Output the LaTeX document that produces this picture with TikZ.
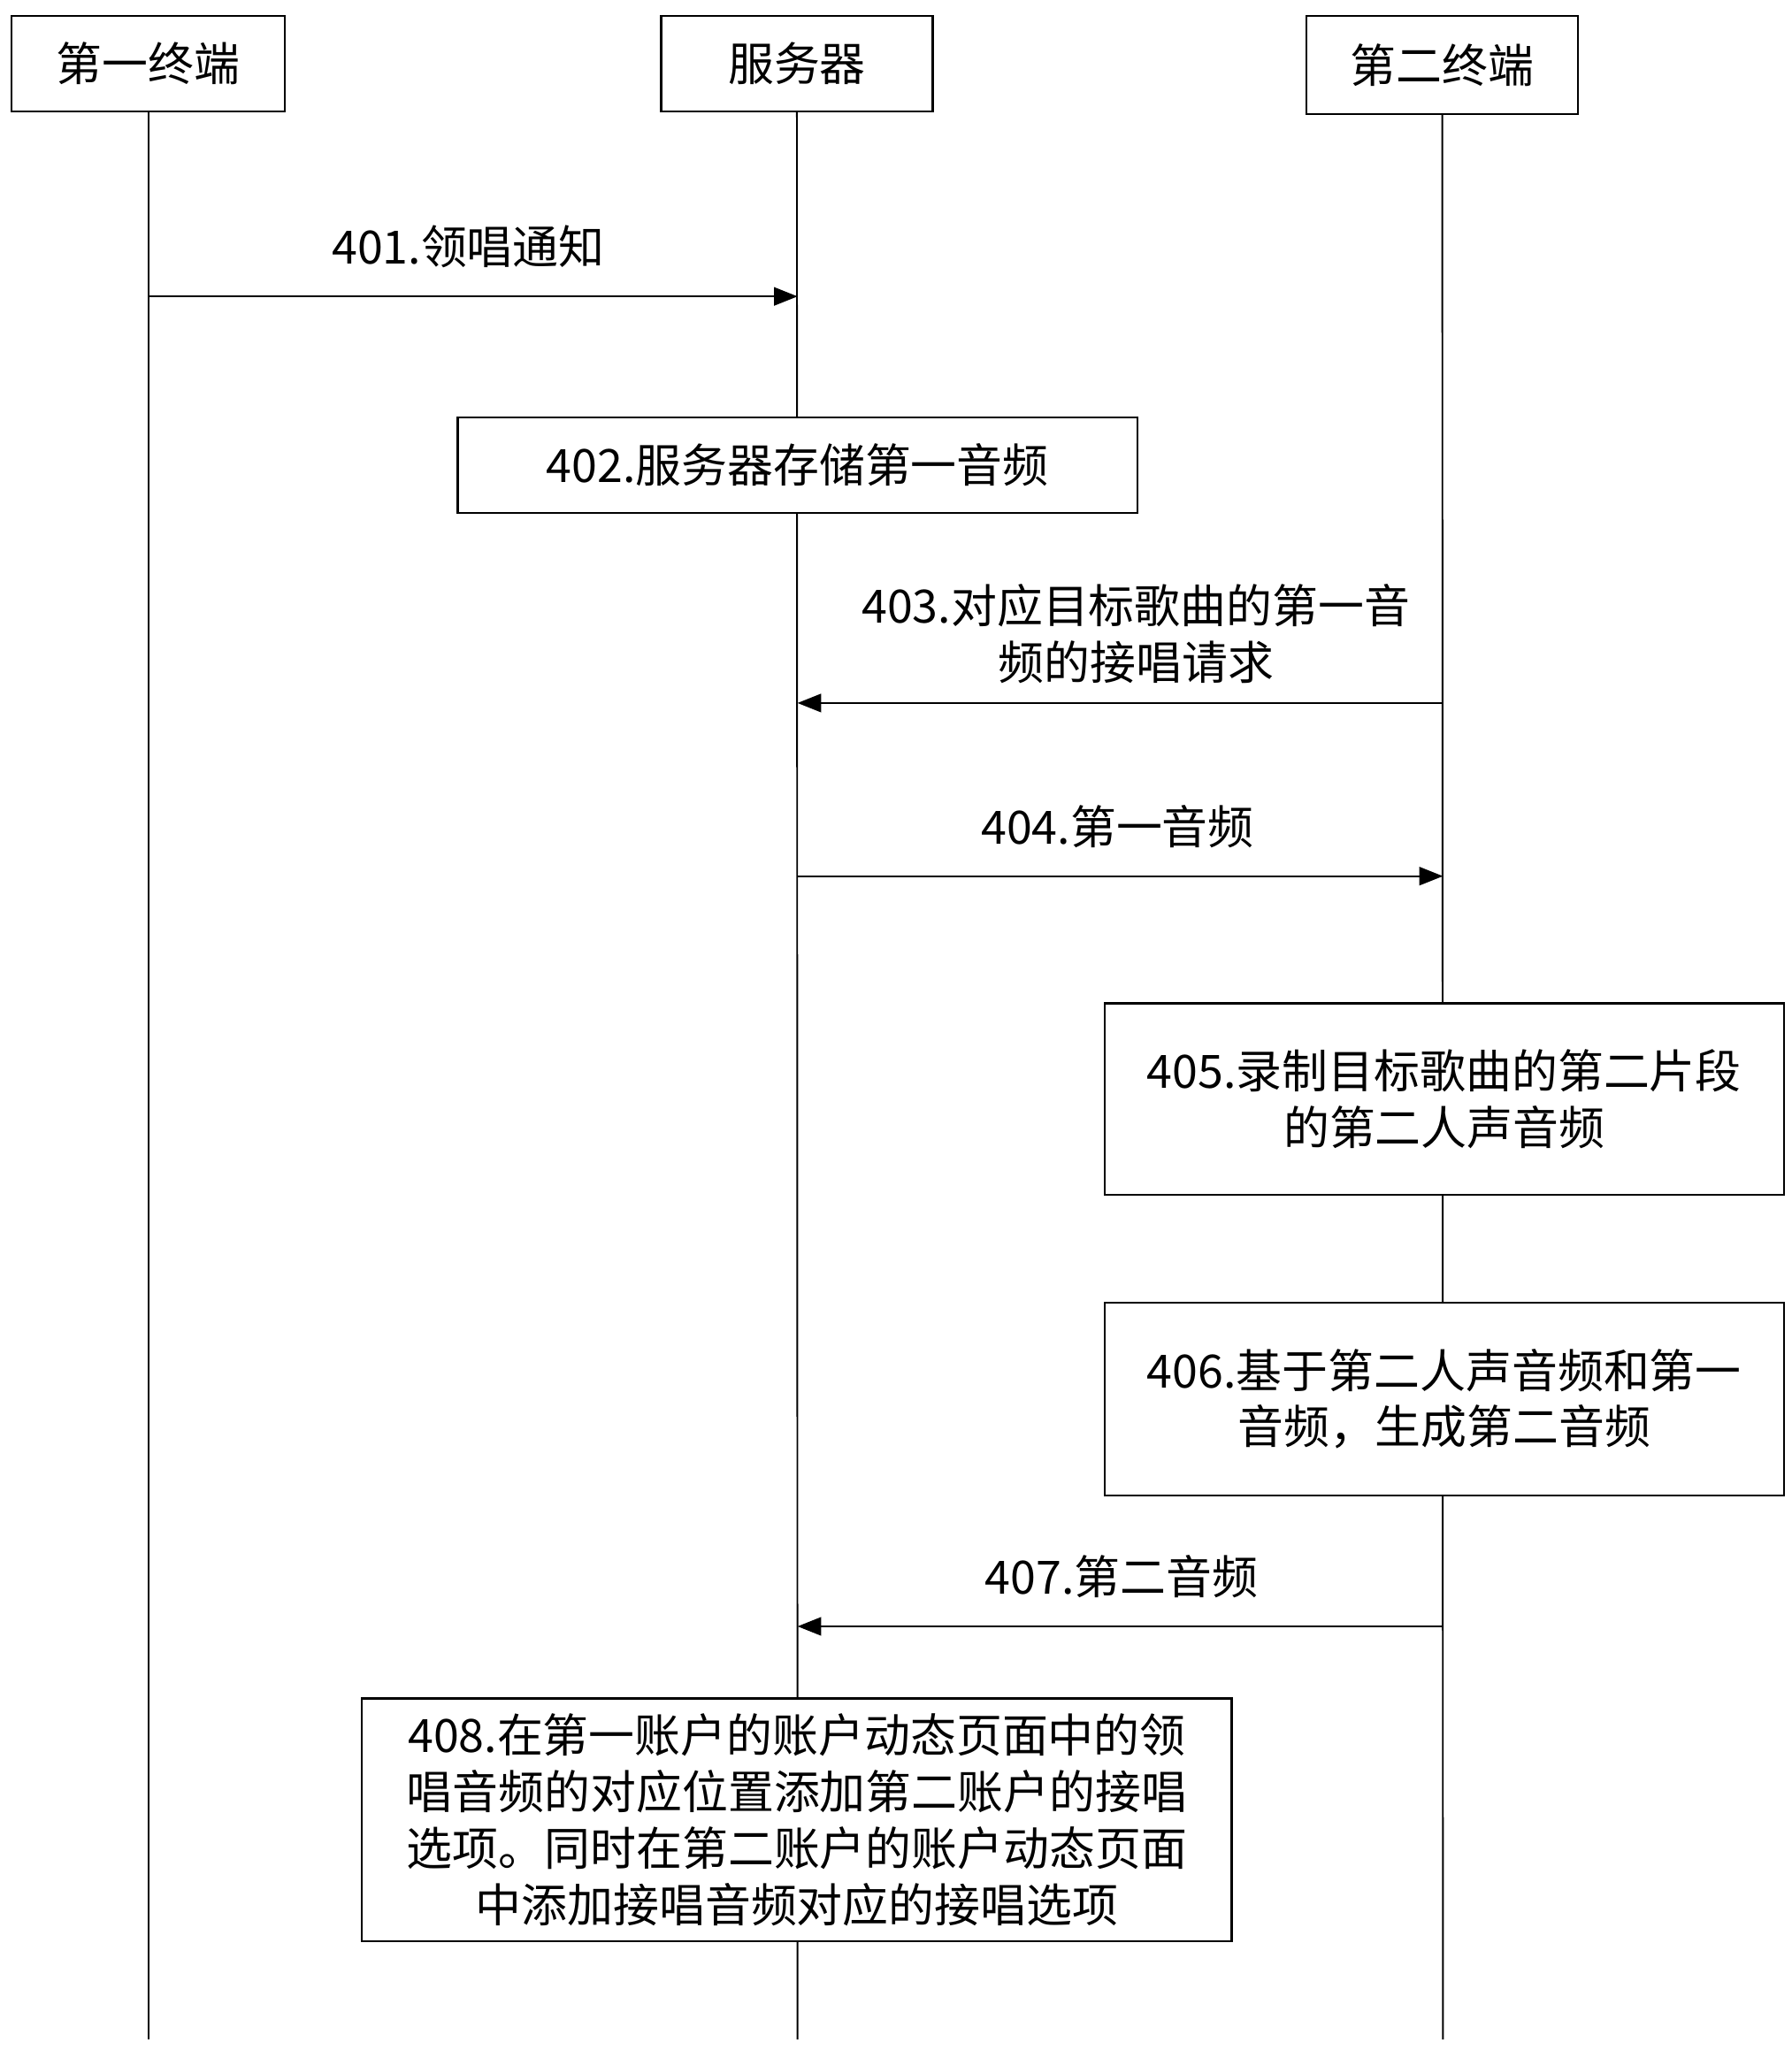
\documentclass[tikz,border=0pt]{standalone}
\usepackage{fontspec}
\setmainfont{Noto Sans CJK SC}
\usetikzlibrary{arrows.meta}
\begin{document}
\begin{tikzpicture}[x=1pt,y=-1pt,
 box/.style={draw,line width=1.5pt,inner sep=0pt,align=center,font=\fontsize{35}{43}\selectfont},
 lbl/.style={align=center,font=\fontsize{35}{43}\selectfont},
 life/.style={line width=1.3pt},
 msg/.style={line width=1.3pt,-{Triangle[length=18pt,width=14pt]}}]
\useasboundingbox (0,0) rectangle (1366,1563);
\node[box,minimum width=208pt,minimum height=73pt] (t1) at (113,48.5) {第一终端};
\node[box,minimum width=207pt,minimum height=73pt] (sv) at (607.5,48.5) {服务器};
\node[box,minimum width=207pt,minimum height=75pt] (t2) at (1099.5,49.5) {第二终端};
\coordinate (e1) at (113,1555);
\coordinate (e2) at (608,1555);
\coordinate (e3) at (1100,1555);
\draw[life] (t1.south) -- (e1);
\draw[life] (sv.south) -- (e2);
\draw[life] (t2.south) -- (e3);
\node[box,fill=white,minimum width=518pt,minimum height=73pt] (b402) at (608,354.5) {402.服务器存储第一音频};
\node[box,fill=white,minimum width=518pt,minimum height=146pt] (b405) at (1101,838) {405.录制目标歌曲的第二片段\\的第二人声音频};
\node[box,fill=white,minimum width=518pt,minimum height=147pt] (b406) at (1101,1066.5) {406.基于第二人声音频和第一\\音频，生成第二音频};
\node[box,fill=white,minimum width=663pt,minimum height=185pt] (b408) at (607.5,1387.5) {408.在第一账户的账户动态页面中的领\\唱音频的对应位置添加第二账户的接唱\\选项。同时在第二账户的账户动态页面\\中添加接唱音频对应的接唱选项};
\coordinate (a1s) at (113,226); \coordinate (a1e) at (608,226);
\draw[msg] (a1s) -- (a1e);
\node[lbl] (l401) at (357,188) {401.领唱通知};
\coordinate (a3s) at (1100,536); \coordinate (a3e) at (608,536);
\draw[msg] (a3s) -- (a3e);
\node[lbl] (l403) at (866,483) {403.对应目标歌曲的第一音\\频的接唱请求};
\coordinate (a4s) at (608,668); \coordinate (a4e) at (1100,668);
\draw[msg] (a4s) -- (a4e);
\node[lbl] (l404) at (852,630) {404.第一音频};
\coordinate (a7s) at (1100,1240); \coordinate (a7e) at (608,1240);
\draw[msg] (a7s) -- (a7e);
\node[lbl] (l407) at (855,1202) {407.第二音频};
\end{tikzpicture}
\end{document}
